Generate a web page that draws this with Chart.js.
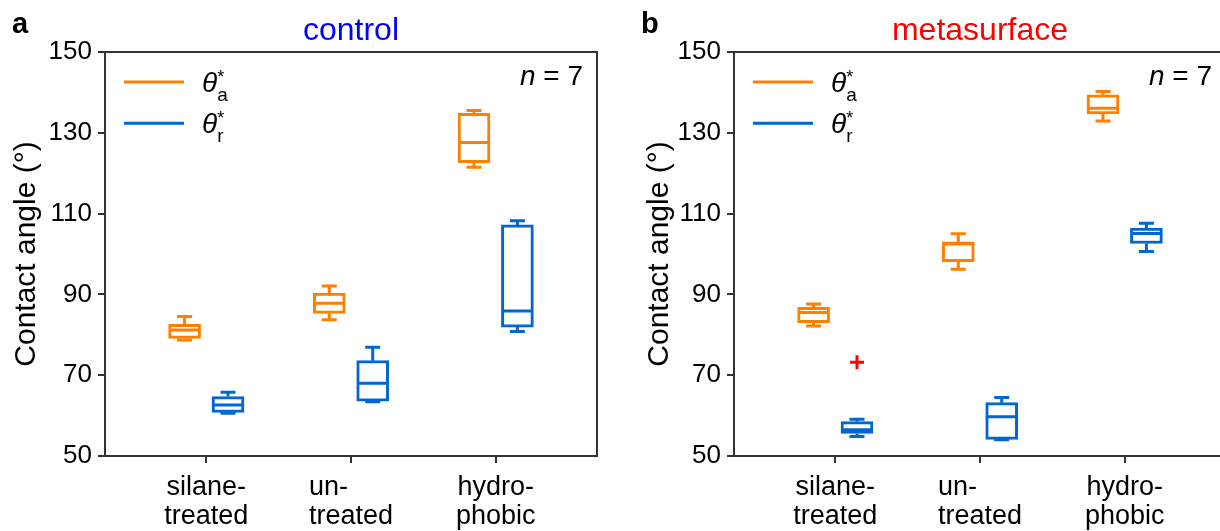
<!DOCTYPE html>
<html>
<head>
<meta charset="utf-8">
<script src="https://cdn.jsdelivr.net/npm/chart.js@4.4.1/dist/chart.umd.min.js"></script>
<style>
  html, body { margin: 0; padding: 0; background: #fff; overflow: hidden; width: 1220px; height: 531px; }
  #chartA { position: absolute; left: 0; top: 0; }
  #chartB { position: absolute; left: 610px; top: 0; }
</style>
</head>
<body>
<canvas id="chartA" width="610" height="531"></canvas>
<canvas id="chartB" width="630" height="531"></canvas>
<script>
var categories = [["silane-", "treated"], ["un-", "treated"], ["hydro-", "phobic"]];
var yTicks = [50, 70, 90, 110, 130, 150];
var sampleSize = 7;

// control: advancing angle (orange)
var ctrlAdvMin = [78.7, 83.7, 121.5];
var ctrlAdvQ1  = [79.1, 85.3, 122.6];
var ctrlAdvMed = [81.2, 87.8, 127.6];
var ctrlAdvQ3  = [82.6, 90.3, 134.8];
var ctrlAdvMax = [84.5, 92.1, 135.5];
// control: receding angle (blue)
var ctrlRecMin = [60.6, 63.4, 80.8];
var ctrlRecQ1  = [60.8, 63.6, 81.9];
var ctrlRecMed = [62.6, 68.0, 85.9];
var ctrlRecQ3  = [64.7, 73.6, 107.2];
var ctrlRecMax = [65.8, 76.9, 108.2];
var ctrlRecOut = [null, null, null];

// metasurface: advancing angle
var metaAdvMin = [82.2, 96.2, 132.9];
var metaAdvQ1  = [83.0, 98.1, 134.7];
var metaAdvMed = [85.5, 102.5, 136.1];
var metaAdvQ3  = [86.8, 103.0, 139.4];
var metaAdvMax = [87.6, 105.0, 140.2];
// metasurface: receding angle
var metaRecMin = [54.8, 54.0, 100.6];
var metaRecQ1  = [55.6, 54.1, 102.6];
var metaRecMed = [56.5, 59.7, 105.1];
var metaRecQ3  = [58.5, 63.2, 106.4];
var metaRecMax = [59.1, 64.5, 107.6];
var metaRecOut = [73.2, null, null];

var orange = "#ff7f00";
var blue = "#0066d4";
var fam = '"Liberation Sans", Arial, Helvetica, sans-serif';
Chart.defaults.font.family = fam;

// pad the shorter line of a two-line label with spaces so the lines read left-aligned
var measureCtx = document.createElement("canvas").getContext("2d");
function leftAlignLines(lines) {
  measureCtx.font = "27px " + fam;
  var widths = lines.map(function (s) { return measureCtx.measureText(s).width; });
  var maxW = Math.max.apply(null, widths);
  return lines.map(function (s) {
    var out = s;
    while (measureCtx.measureText(out + " ").width <= maxW + 2) out += " ";
    return out;
  });
}

function boxSet(sub, color, shift, lo, q1, med, q3, hi) {
  return {
    type: "bar",
    legendSub: sub,
    data: q1.map(function (v, i) { return { x: i + shift, y: [v, q3[i]] }; }),
    whiskerLo: lo,
    whiskerHi: hi,
    median: med,
    backgroundColor: "#fff",
    borderColor: color,
    borderWidth: 3,
    borderSkipped: false,
    barThickness: 32,
    grouped: false
  };
}

function outlierSet(vals, shift) {
  var pts = [];
  vals.forEach(function (v, i) { if (v !== null) pts.push({ x: i + shift, y: v }); });
  return {
    type: "scatter",
    data: pts,
    pointStyle: "cross",
    pointRadius: 7,
    borderColor: "#ff0000",
    borderWidth: 3
  };
}

// whiskers, caps and medians on top of the floating bars
var boxParts = {
  id: "boxParts",
  afterDatasetsDraw: function (chart) {
    var ctx = chart.ctx, y = chart.scales.y;
    ctx.save();
    chart.data.datasets.forEach(function (ds, di) {
      if (!ds.median) return;
      var meta = chart.getDatasetMeta(di);
      ctx.strokeStyle = ds.borderColor;
      ctx.lineWidth = 3;
      meta.data.forEach(function (bar, i) {
        var x = bar.x, half = bar.width / 2;
        var pLo = y.getPixelForValue(ds.whiskerLo[i]);
        var pHi = y.getPixelForValue(ds.whiskerHi[i]);
        var pQ1 = y.getPixelForValue(ds.data[i].y[0]);
        var pQ3 = y.getPixelForValue(ds.data[i].y[1]);
        var pMed = y.getPixelForValue(ds.median[i]);
        ctx.beginPath();
        ctx.moveTo(x, pQ1); ctx.lineTo(x, pLo);
        ctx.moveTo(x, pQ3); ctx.lineTo(x, pHi);
        ctx.moveTo(x - 7.5, pLo); ctx.lineTo(x + 7.5, pLo);
        ctx.moveTo(x - 7.5, pHi); ctx.lineTo(x + 7.5, pHi);
        ctx.moveTo(x - half + 1.5, pMed); ctx.lineTo(x + half - 1.5, pMed);
        ctx.stroke();
      });
    });
    ctx.restore();
  }
};

// top/right spines, panel letter, title, legend and sample size
var panelDecor = {
  id: "panelDecor",
  afterDraw: function (chart) {
    var ctx = chart.ctx, ca = chart.chartArea;
    var o = chart.options.plugins.panelDecor;
    ctx.save();
    ctx.strokeStyle = "#333";
    ctx.lineWidth = 2;
    ctx.beginPath();
    ctx.moveTo(ca.left, ca.top); ctx.lineTo(ca.right, ca.top); ctx.lineTo(ca.right, ca.bottom);
    ctx.stroke();

    ctx.textBaseline = "alphabetic";
    ctx.fillStyle = "#000";
    ctx.textAlign = "left";
    ctx.font = "bold 29px " + fam;
    ctx.fillText(o.letter, ca.left - 93, 33);

    ctx.fillStyle = o.titleColor;
    ctx.textAlign = "center";
    ctx.font = "32px " + fam;
    ctx.fillText(o.title, (ca.left + ca.right) / 2, 40);

    // n = 7
    ctx.fillStyle = "#000";
    ctx.textAlign = "right";
    ctx.font = "28px " + fam;
    var rest = " = " + sampleSize;
    var w = ctx.measureText(rest).width;
    ctx.fillText(rest, ca.right - 14, 85);
    ctx.font = "italic 28px " + fam;
    ctx.fillText("n", ca.right - 14 - w, 85);

    // legend
    ctx.textAlign = "left";
    var row = 0;
    chart.data.datasets.forEach(function (ds) {
      if (!ds.legendSub) return;
      var ly = 82 + row * 41.3;
      var lx = ca.left + 19;
      ctx.strokeStyle = ds.borderColor;
      ctx.lineWidth = 3;
      ctx.beginPath();
      ctx.moveTo(lx, ly); ctx.lineTo(lx + 60, ly);
      ctx.stroke();
      ctx.fillStyle = "#000";
      ctx.font = "italic 28px " + fam;
      ctx.fillText("\u03b8", lx + 78, ly + 10);
      var tw = ctx.measureText("\u03b8").width;
      ctx.font = "18px " + fam;
      ctx.fillText("*", lx + 78 + tw, ly + 1);
      ctx.font = "19px " + fam;
      ctx.fillText(ds.legendSub, lx + 78 + tw, ly + 19);
      row++;
    });
    ctx.restore();
  }
};

function makeChart(id, letter, title, titleColor, padLeft, padRight, axisW, sets) {
  return new Chart(document.getElementById(id), {
    type: "bar",
    data: { datasets: sets },
    plugins: [boxParts, panelDecor],
    options: {
      responsive: false,
      animation: false,
      layout: { padding: { left: padLeft, right: padRight, top: 52, bottom: 0 } },
      plugins: {
        legend: { display: false },
        tooltip: { enabled: false },
        panelDecor: { letter: letter, title: title, titleColor: titleColor }
      },
      scales: {
        x: {
          type: "linear",
          min: -0.7,
          max: 2.7,
          bounds: "data",
          offset: false,
          afterBuildTicks: function (s) {
            s.ticks = categories.map(function (c, i) { return { value: i }; });
          },
          afterFit: function (s) { s.height = 75; },
          ticks: {
            callback: function (v) { return leftAlignLines(categories[v]); },
            font: { size: 27, lineHeight: 1.04 },
            color: "#000",
            padding: 11,
            maxRotation: 0,
            autoSkip: false
          },
          grid: { offset: false, drawOnChartArea: false, tickLength: 7, color: "#333", lineWidth: 2 },
          border: { color: "#333", width: 2 }
        },
        y: {
          min: 50,
          max: 150,
          afterBuildTicks: function (s) {
            s.ticks = yTicks.map(function (v) { return { value: v }; });
          },
          afterFit: function (s) { s.width = axisW; },
          ticks: { font: { size: 26 }, color: "#000", padding: 6 },
          grid: { drawOnChartArea: false, tickLength: 7, color: "#333", lineWidth: 2 },
          border: { color: "#333", width: 2 },
          title: {
            display: true,
            text: "Contact angle (\u00b0)",
            font: { size: 30, lineHeight: 1.2 },
            color: "#000",
            padding: { top: 9, bottom: 0 }
          }
        }
      }
    }
  });
}

makeChart("chartA", "a", "control", "#0000ff", 0, 13, 105, [
  boxSet("a", orange, -0.15, ctrlAdvMin, ctrlAdvQ1, ctrlAdvMed, ctrlAdvQ3, ctrlAdvMax),
  boxSet("r", blue, 0.15, ctrlRecMin, ctrlRecQ1, ctrlRecMed, ctrlRecQ3, ctrlRecMax),
  outlierSet(ctrlRecOut, 0.15)
]);

makeChart("chartB", "b", "metasurface", "#ff0000", 23, 14, 101, [
  boxSet("a", orange, -0.15, metaAdvMin, metaAdvQ1, metaAdvMed, metaAdvQ3, metaAdvMax),
  boxSet("r", blue, 0.15, metaRecMin, metaRecQ1, metaRecMed, metaRecQ3, metaRecMax),
  outlierSet(metaRecOut, 0.15)
]);
</script>
</body>
</html>
